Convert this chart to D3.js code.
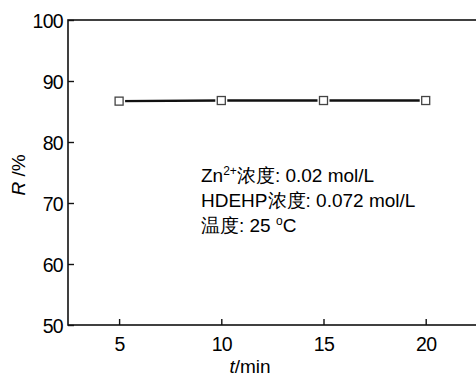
<!DOCTYPE html>
<html><head><meta charset="utf-8">
<script src="https://cdn.jsdelivr.net/npm/d3@7"></script>
<style>body{margin:0;background:#fff}svg{display:block}text{font-family:"Liberation Sans",Arial,sans-serif;fill:#000}</style>
</head><body><svg id="c" width="476" height="376"></svg>
<script>
const times = [5, 10, 15, 20];
const rValues = [86.7, 86.8, 86.8, 86.8];
const xTicks = [5, 10, 15, 20];
const yTicks = [50, 60, 70, 80, 90, 100];
const notes = ["浓度: 0.02 mol/L", "HDEHP浓度: 0.072 mol/L", "温度: 25 °C"];

const svg = d3.select("#c");
const L = 68, R = 476.8, T = 20, B = 325;
const x = d3.scaleLinear().domain([2.5, 22.5]).range([L, R]);
const y = d3.scaleLinear().domain([50, 100]).range([B, T]);

// frame
svg.append("rect").attr("x", L).attr("y", T).attr("width", R - L).attr("height", B - T)
  .attr("fill", "none").attr("stroke", "#111").attr("stroke-width", 1.6);

const xa = svg.append("g").attr("transform", `translate(0,${B})`)
  .call(d3.axisBottom(x).tickValues(xTicks).tickSize(-6).tickPadding(12).tickFormat(d3.format("d")));
const ya = svg.append("g").attr("transform", `translate(${L},0)`)
  .call(d3.axisLeft(y).tickValues(yTicks).tickSize(-6).tickPadding(5).tickFormat(d3.format("d")));
[xa, ya].forEach(g => {
  g.select(".domain").remove();
  g.selectAll(".tick line").attr("stroke", "#111").attr("stroke-width", 1.4);
  g.selectAll(".tick text").attr("font-size", 19.5).attr("letter-spacing", -0.7).attr("fill", "#000")
    .style("font-family", '"Liberation Sans",Arial,sans-serif');
});
ya.selectAll(".tick text").attr("dy", "0.36em");

// line
const line = d3.line().x((d, i) => x(times[i])).y(d => y(d));
svg.append("path").attr("d", line(rValues)).attr("fill", "none").attr("stroke", "#111").attr("stroke-width", 2.4);
// gap around markers
svg.selectAll("rect.gap").data(rValues).enter().append("rect")
  .attr("x", (d, i) => x(times[i]) - 6).attr("y", d => y(d) - 6).attr("width", 12).attr("height", 12)
  .attr("fill", "#fff");
svg.selectAll("rect.mk").data(rValues).enter().append("rect")
  .attr("x", (d, i) => x(times[i]) - 4).attr("y", d => y(d) - 4).attr("width", 8).attr("height", 8)
  .attr("fill", "#fff").attr("stroke", "#444").attr("stroke-width", 1.3);

// axis titles
const yl = svg.append("text").attr("transform", "translate(25,175) rotate(-90)")
  .attr("text-anchor", "middle").attr("font-size", 19);
yl.append("tspan").attr("font-style", "italic").text("R");
yl.append("tspan").text(" /%");
const xl = svg.append("text").attr("x", 250).attr("y", 373).attr("text-anchor", "middle").attr("font-size", 19);
xl.append("tspan").attr("font-style", "italic").text("t");
xl.append("tspan").text("/min");

// annotation
const fs = 19;
const n1 = svg.append("text").attr("x", 201).attr("y", 182).attr("font-size", fs);
n1.append("tspan").text("Zn");
n1.append("tspan").attr("font-size", 12).attr("dy", -7).text("2+");
n1.append("tspan").attr("dy", 7).text(notes[0]);
svg.append("text").attr("x", 201).attr("y", 207).attr("font-size", fs).text(notes[1]);
const n3 = svg.append("text").attr("x", 201).attr("y", 232).attr("font-size", fs);
n3.append("tspan").text("温度: 25 ");
n3.append("tspan").attr("font-size", 12).attr("dy", -7).text("o");
n3.append("tspan").attr("dy", 7).text("C");
</script></body></html>
